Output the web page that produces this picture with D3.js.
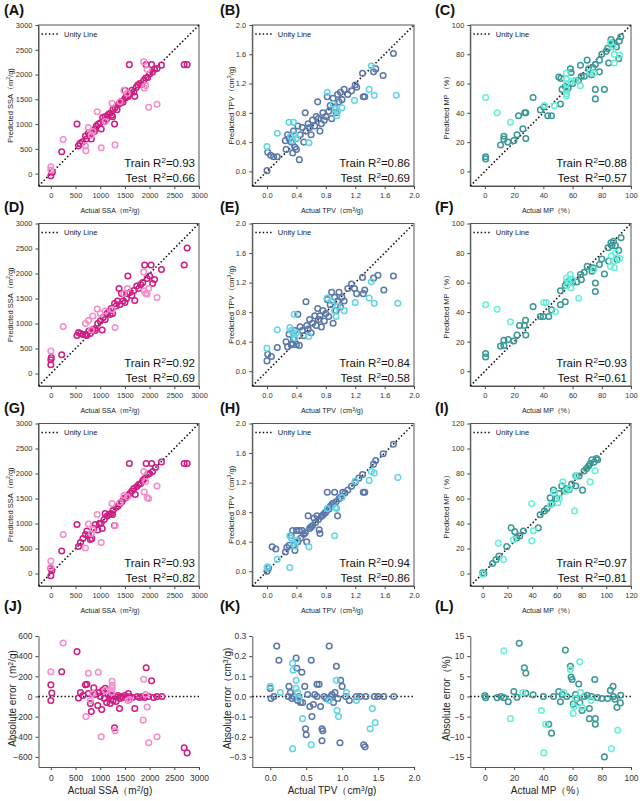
<!DOCTYPE html>
<html><head><meta charset="utf-8">
<script src="https://cdn.jsdelivr.net/npm/d3@7"></script>
<style>body{margin:0;background:#fff}svg{font-family:Arial,"Liberation Sans",sans-serif}</style>
</head><body>
<script>
// ---------- DATA ----------
const ssaTicks=[0,500,1000,1500,2000,2500,3000];
const tpvTicks=[0.0,0.4,0.8,1.2,1.6,2.0];
const mpTicks=[0,20,40,60,80,100];
const mpTicksI=[0,20,40,60,80,100,120];
const ssaErrTicks=[-600,-400,-200,0,200,400,600];
const tpvErrTicks=[-0.3,-0.2,-0.1,0.0,0.1,0.2,0.3];
const tpvErrXTicks=[0.0,0.5,1.0,1.5,2.0];
const mpErrTicks=[-15,-10,-5,0,5,10,15];
const r2Labels=[["0.93","0.66"],["0.86","0.69"],["0.88","0.57"],["0.92","0.69"],["0.84","0.58"],["0.93","0.61"],["0.93","0.82"],["0.94","0.86"],["0.97","0.81"]];

const trainA=[[0,-45],[30,30],[220,440],[530,1000],[560,560],[590,610],[640,640],[700,760],[720,700],[760,820],[790,780],[820,700],[850,870],[880,850],[920,960],[960,1000],[1000,1020],[1020,900],[1050,1130],[1080,1060],[1100,1150],[1130,1100],[1160,1190],[1200,1220],[1230,1180],[1260,1300],[1290,1000],[1300,1330],[1340,1290],[1370,1400],[1400,1420],[1430,1460],[1460,1440],[1500,1520],[1530,1560],[1560,1550],[1590,2200],[1600,1610],[1640,1680],[1680,1650],[1700,1560],[1730,1740],[1760,1790],[1800,1820],[1840,1800],[1880,1880],[1920,1930],[1960,1940],[2000,2010],[2040,2200],[2060,2050],[2100,2110],[2150,2120],[2240,2190],[1930,2200],[2700,2200],[2760,2200],[1500,1680],[1250,1150],[900,900]];
const testA=[[0,140],[0,70],[250,690],[700,560],[710,460],[760,930],[850,850],[940,1250],[1020,520],[1300,580],[1240,1420],[1400,1450],[1480,1680],[1550,1620],[1880,2260],[1950,2100],[1980,1340],[2150,1400],[1890,1730],[1920,1780],[820,780],[1100,1050]];
const trainD=[[0,175],[0,275],[10,320],[220,375],[530,760],[560,820],[600,800],[650,780],[700,780],[730,760],[770,850],[800,800],[850,880],[900,860],[950,1000],[1000,1050],[1040,870],[1060,1120],[1100,1080],[1140,1200],[1180,1250],[1220,1300],[1250,1200],[1290,1400],[1320,1350],[1350,1450],[1380,1700],[1400,1380],[1430,1600],[1460,1450],[1500,1420],[1530,1500],[1560,1950],[1600,1620],[1640,1560],[1680,1660],[1700,1460],[1740,1750],[1780,1700],[1820,1780],[1860,1820],[1900,2170],[1950,1900],[2000,1950],[2030,2170],[2060,1800],[2100,1880],[2240,2080],[2700,2170],[2760,2510],[1200,1180],[900,900],[1550,1600]];
const testD=[[0,450],[250,940],[700,1000],[760,1060],[850,1150],[940,1290],[1000,1200],[1100,1250],[1300,920],[1240,1280],[1480,1600],[1550,1700],[1880,2030],[1920,1600],[1950,1590],[2150,1520],[1890,1650],[1980,1700],[820,870]];
const trainG=[[0,-45],[0,100],[20,55],[220,450],[530,980],[560,540],[600,620],[650,700],[700,780],[730,850],[760,760],[800,680],[830,700],[870,900],[900,980],[950,870],[980,1000],[1020,1010],[1040,900],[1080,1080],[1100,1200],[1140,1150],[1180,1180],[1220,1200],[1260,1260],[1290,960],[1320,1320],[1360,1350],[1400,1400],[1440,1440],[1480,1500],[1520,1520],[1560,1560],[1590,2200],[1600,1600],[1640,1650],[1680,1700],[1710,1580],[1740,1740],[1780,1780],[1820,1800],[1860,1860],[1900,1900],[1930,2200],[1960,1980],[2000,2000],[2040,2200],[2060,2040],[2120,2120],[2240,2230],[2700,2200],[2760,2200],[1250,1180]];
const testG=[[0,250],[0,120],[250,780],[700,510],[760,990],[850,880],[940,1180],[1020,620],[1300,960],[1240,1400],[1400,1420],[1480,1560],[1550,1530],[1880,2040],[1950,1520],[1980,1500],[2150,1750],[1890,1630],[1920,1840],[820,800]];
const trainJ=[[0,115],[0,-40],[20,35],[220,245],[530,445],[560,-15],[600,40],[650,10],[700,115],[730,120],[760,30],[800,-70],[820,-150],[870,85],[900,20],[950,-90],[980,40],[1030,-130],[1050,60],[1080,-20],[1100,80],[1130,-60],[1160,20],[1200,-70],[1230,10],[1260,-40],[1290,-310],[1320,-50],[1360,10],[1390,-120],[1420,0],[1460,-10],[1500,10],[1540,-10],[1570,30],[1600,0],[1650,-10],[1700,-120],[1750,0],[1800,-10],[1850,0],[1900,-10],[1930,285],[1980,0],[2040,155],[2080,-10],[2150,0],[2250,0],[2700,-510],[2760,-560],[1000,0],[1200,0],[1300,0],[1400,-20]];
const testJ=[[0,245],[250,530],[710,-200],[760,230],[800,-40],[850,30],[960,240],[1020,-400],[1240,150],[1240,110],[1240,80],[1240,40],[1300,-340],[1560,-40],[1600,-30],[1880,170],[1870,-235],[1950,-105],[1980,-460],[2150,-400],[1920,20],[1100,60]];

const trainB=[[0.0,0.01],[0.01,0.26],[0.05,0.22],[0.09,0.2],[0.14,0.2],[0.26,0.3],[0.28,0.5],[0.3,0.45],[0.33,0.4],[0.36,0.55],[0.38,0.33],[0.4,0.3],[0.42,0.62],[0.44,0.16],[0.45,0.5],[0.48,0.6],[0.5,0.4],[0.52,0.8],[0.53,0.55],[0.56,0.65],[0.58,0.6],[0.6,0.5],[0.62,0.7],[0.65,0.62],[0.67,0.75],[0.69,0.95],[0.7,0.72],[0.72,0.55],[0.74,0.65],[0.76,0.8],[0.78,0.7],[0.8,0.75],[0.82,1.02],[0.84,0.82],[0.86,0.9],[0.88,0.72],[0.9,1.0],[0.92,0.88],[0.94,0.8],[0.96,1.05],[0.98,0.95],[1.0,1.08],[1.02,0.98],[1.05,1.12],[1.1,1.05],[1.15,1.1],[1.2,1.18],[1.22,1.15],[1.3,1.34],[1.31,1.02],[1.33,1.02],[1.45,1.36],[1.48,1.4],[1.58,1.31],[1.72,1.61],[0.35,0.25],[0.25,0.42]];
const testB=[[0.0,0.34],[0.14,0.52],[0.3,0.67],[0.36,0.67],[0.32,0.48],[0.35,0.42],[0.38,0.5],[0.4,0.45],[0.57,0.39],[0.82,1.08],[0.9,0.92],[0.93,0.85],[0.95,0.76],[1.02,0.87],[1.19,0.97],[1.39,1.12],[1.46,1.04],[1.76,1.04],[1.42,1.44],[0.96,0.82]];
const trainE=[[0.0,0.14],[0.01,0.23],[0.06,0.2],[0.14,0.32],[0.26,0.4],[0.28,0.33],[0.3,0.5],[0.33,0.36],[0.36,0.44],[0.38,0.55],[0.4,0.36],[0.42,0.77],[0.44,0.35],[0.45,0.6],[0.48,0.55],[0.5,0.48],[0.53,0.94],[0.54,0.62],[0.56,0.57],[0.58,0.7],[0.6,0.52],[0.62,0.65],[0.65,0.75],[0.67,0.62],[0.69,0.85],[0.7,0.7],[0.72,0.75],[0.74,0.6],[0.76,0.82],[0.78,0.68],[0.8,0.78],[0.82,0.97],[0.84,0.74],[0.86,0.9],[0.88,1.07],[0.9,0.65],[0.92,1.0],[0.94,0.82],[0.96,0.95],[0.98,1.07],[1.0,0.87],[1.02,1.0],[1.05,0.95],[1.1,1.12],[1.15,1.18],[1.19,1.12],[1.22,1.05],[1.3,1.27],[1.31,1.05],[1.33,1.1],[1.45,1.26],[1.51,1.3],[1.59,1.1],[1.72,1.29],[0.35,0.37]];
const testE=[[0.0,0.31],[0.14,0.56],[0.31,0.59],[0.33,0.55],[0.37,0.77],[0.36,0.5],[0.38,0.45],[0.4,0.52],[0.57,0.47],[0.82,0.99],[0.88,0.95],[0.92,0.82],[0.94,0.74],[1.05,0.82],[1.2,0.93],[1.39,0.99],[1.46,0.92],[1.78,0.92],[1.42,1.21],[0.96,0.88]];
const trainH=[[0.0,0.0],[0.02,0.04],[0.07,0.33],[0.12,0.3],[0.25,0.26],[0.27,0.32],[0.3,0.35],[0.33,0.48],[0.35,0.55],[0.38,0.28],[0.4,0.55],[0.42,0.4],[0.44,0.55],[0.46,0.45],[0.48,0.55],[0.5,0.5],[0.52,0.52],[0.54,0.4],[0.56,0.75],[0.58,0.58],[0.6,0.6],[0.62,0.62],[0.64,0.72],[0.66,0.66],[0.68,0.75],[0.7,0.7],[0.71,0.56],[0.72,0.51],[0.74,0.74],[0.76,0.76],[0.78,0.78],[0.8,0.8],[0.82,1.07],[0.84,0.84],[0.86,0.88],[0.88,0.9],[0.9,0.92],[0.92,1.07],[0.94,0.94],[0.96,0.75],[0.98,0.98],[1.0,1.0],[1.03,1.07],[1.06,1.06],[1.1,1.1],[1.15,1.15],[1.2,1.2],[1.25,1.26],[1.3,1.31],[1.31,1.07],[1.33,1.07],[1.45,1.45],[1.48,1.5],[1.58,1.59],[1.72,1.72],[0.36,0.35]];
const testH=[[0.0,0.05],[0.01,0.06],[0.14,0.16],[0.31,0.05],[0.31,0.48],[0.33,0.45],[0.36,0.38],[0.38,0.34],[0.4,0.42],[0.57,0.33],[0.82,0.85],[0.92,0.48],[0.93,0.86],[0.95,0.85],[1.02,1.0],[1.2,1.22],[1.39,1.23],[1.46,1.33],[1.78,1.27],[1.42,1.35]];
const trainK=[[0.0,0.04],[0.01,-0.01],[0.05,0.0],[0.09,0.25],[0.12,0.18],[0.26,0.05],[0.28,0.02],[0.3,-0.01],[0.33,0.0],[0.36,0.19],[0.37,0.14],[0.38,-0.02],[0.4,0.0],[0.42,-0.03],[0.44,0.12],[0.45,-0.03],[0.48,0.05],[0.49,-0.16],[0.5,-0.19],[0.52,0.01],[0.55,-0.05],[0.57,0.18],[0.58,-0.1],[0.6,-0.04],[0.62,0.01],[0.65,0.06],[0.68,0.06],[0.7,-0.05],[0.72,-0.16],[0.72,-0.22],[0.73,-0.17],[0.75,0.0],[0.78,-0.01],[0.82,0.25],[0.84,0.0],[0.86,0.01],[0.88,-0.03],[0.9,0.02],[0.92,0.15],[0.94,-0.01],[0.97,-0.23],[0.98,0.08],[1.0,0.05],[1.05,0.0],[1.1,-0.02],[1.2,0.0],[1.25,0.0],[1.3,-0.24],[1.32,-0.25],[1.33,0.0],[1.45,0.0],[1.5,0.0],[1.58,0.0],[1.72,0.0],[0.25,0.0],[0.65,0.0]];
const testK=[[0.0,0.05],[0.14,0.02],[0.31,0.165],[0.32,0.13],[0.36,0.08],[0.36,0.04],[0.38,0.02],[0.4,-0.01],[0.45,-0.11],[0.31,-0.26],[0.57,-0.24],[0.82,-0.02],[0.92,0.08],[0.93,-0.07],[0.95,-0.1],[1.06,0.02],[1.2,-0.02],[1.39,-0.16],[1.42,-0.06],[1.46,-0.13]];

const trainC=[[0.5,10],[0.5,8.5],[10.7,18],[13,24],[13,22],[15.7,20],[19.8,21],[22,25],[23,38],[26,29],[27.3,40],[28,40],[28,22.5],[33,50.5],[38,42],[40.3,44],[43,38],[45.6,38],[51.7,46],[50.6,64.5],[52,63.5],[52.8,56],[55,58],[56,55],[57,57],[58.5,70],[59,67.5],[60,60],[62,62],[64,62],[65.4,72.5],[66,65],[68,65],[70,76],[71,70],[73,66],[74,71],[75.6,73],[75.6,56],[75.6,49.5],[78.4,76],[78.4,68],[80,80],[81.8,56],[83,82],[84.7,74],[84,84],[86.3,90],[87,87],[88,88],[90,85],[91.6,77],[93,92],[92,89]];
const testC=[[0.5,50.5],[8.4,40],[17.5,33.5],[40.8,45],[47.6,45],[55.8,67],[55.8,63],[55.8,60],[55.8,55.7],[55.8,53],[55.8,51.5],[59,61.5],[62,62],[65.4,58.5],[72,68],[74.5,67],[86,88],[87.7,85],[88.6,80],[88.6,74],[92.3,79.5]];
const trainF=[[0.5,9.6],[0.5,12],[10.7,17],[13,21],[13,17.5],[16,21.5],[19.8,20.5],[22,24.5],[23.7,31],[27,31],[27.8,34.5],[28,24.5],[33,43.7],[38,37],[40,37],[43.7,37],[45.6,41.5],[51.7,54.4],[51.7,45],[55,47],[55,58],[56,60],[58.5,62],[60,60],[63,60.4],[65.4,65.4],[66,62],[68,67],[70,71],[73.3,67.7],[74,70],[75.6,59.7],[75.6,54],[78.4,72.2],[80,76],[81.8,65.8],[84.7,74.5],[84.3,83.6],[86.3,87],[87,85],[89.3,85],[90.4,75.6],[91.6,81.8],[93.2,90.4],[88,88]];
const testF=[[0.5,45],[8.4,42],[17.5,33.5],[40.3,46.5],[42,46.5],[48.3,40.3],[55.8,63],[56.3,58],[57,61],[58.5,65.4],[58.9,56.3],[64.2,49.4],[60,62],[74.5,68.8],[85.9,71],[86.5,78],[88.6,74.5],[88.6,70],[89.3,80.2],[92.3,76.3]];
const trainI=[[0,0.5],[1,0],[8,8],[10.8,11],[13.2,14],[19.5,21.5],[23,36.5],[26,33.5],[27.6,28.5],[30,30],[33,34],[45,36.5],[46.5,47],[50,50],[52,52],[54.6,60.5],[56,56],[57.3,66.7],[60,60],[62,64],[64,70],[66,66],[68,68],[70,67],[72,71.5],[75.4,70],[75.7,78],[78,78],[80.8,66.7],[82,82],[84,84],[85.7,86],[87,88],[88.4,91],[90,89],[93,91],[92,92]];
const testI=[[0,-0.5],[12.7,24.3],[16.8,11.3],[24.9,27],[39.7,55.8],[39.7,26.1],[41,34.2],[55,55],[57.8,64.7],[60.8,56.6],[62,60],[64.9,73.3],[67.6,66],[70,68],[74.3,50.1],[74.9,78.2],[87,73.3],[91,82.2]];
const trainL=[[0,0.2],[0.5,-0.3],[8.4,-0.3],[11,0],[13,-0.3],[16,-1.3],[19.8,1.2],[22,-0.2],[23.5,13.2],[27,7.1],[28,5.8],[28,0.8],[33,0.4],[40,0],[43.7,-6.9],[45.6,-9.1],[47,0],[50.6,1.2],[51.7,-1.3],[53,0.5],[55.1,11.5],[56,0],[58.5,7.5],[59,4.8],[59.7,4.2],[60.4,-1.9],[62,0.5],[63,-0.5],[64.2,3.1],[65,-1.5],[66.5,-3.5],[68,0],[70,0.3],[71.5,-3],[71.5,-5.5],[73,0],[75.2,4.2],[75.6,-5.5],[75.6,-6.9],[77,-0.3],[80,-0.5],[81.8,-15],[84,-0.5],[85.9,1.5],[87.7,2.5],[88,0],[89,-0.7],[90.4,-2.7],[92.7,-1.6],[93,0.3]];
const testL=[[13,11.3],[17.5,-5.5],[26,1.0],[38.7,-3.5],[41.5,-6.9],[40.3,-14],[54,1.0],[58.5,6.7],[60.4,-4.2],[61,-2.5],[62,-0.5],[64.9,8.6],[65.4,1.0],[66.5,-2.7],[72.7,-1.0],[86.6,-13],[90.9,-8.4]];

// ---------- LAYOUT / STYLE ----------
const colX=[[38.5,199],[252.3,414],[470.3,631]];
const rowY=[[25,186],[223.5,386],[423.5,586],[636,767]];
const letterX=[4,220,435];
const letterY=[15,212,413,611];
const xLabelCx=[110,332,548];
const yLabelX=[10,231,446];
const yLabelX4=[12,227,446];
const colors={ssa:["#cf1d83","#f58ccb"],tpv:["#5a77a9","#62d4e6"],mp:["#3a9896","#64f0d8"]};
const props={
  ssa:{x:"Actual SSA（m^2/g)",y:"Predicted SSA（m^2/g)",e:"Absolute error（m^2/g)",dom:[-250,3000],ticks:ssaTicks,fmt:d3.format("d")},
  tpv:{x:"Actual TPV（cm^3/g)",y:"Predicted TPV（cm^3/g)",e:"Absolute error（cm^3/g)",dom:[-0.2,2.0],ticks:tpvTicks,fmt:d3.format(".1f")},
  mp:{x:"Actual MP（%）",y:"Predicted MP（%）",e:"Absolute error（%)",dom:[-10,100],ticks:mpTicks,fmt:d3.format("d")}
};
const panels=[
 {L:"(A)",r:0,c:0,p:"ssa",tr:trainA,te:testA},{L:"(B)",r:0,c:1,p:"tpv",tr:trainB,te:testB},{L:"(C)",r:0,c:2,p:"mp",tr:trainC,te:testC},
 {L:"(D)",r:1,c:0,p:"ssa",tr:trainD,te:testD},{L:"(E)",r:1,c:1,p:"tpv",tr:trainE,te:testE},{L:"(F)",r:1,c:2,p:"mp",tr:trainF,te:testF},
 {L:"(G)",r:2,c:0,p:"ssa",tr:trainG,te:testG},{L:"(H)",r:2,c:1,p:"tpv",tr:trainH,te:testH},{L:"(I)",r:2,c:2,p:"mp",tr:trainI,te:testI,dom:[-10,120],ticks:mpTicksI},
 {L:"(J)",r:3,c:0,p:"ssa",tr:trainJ,te:testJ,err:true,ydom:[-700,600],yticks:ssaErrTicks,yfmt:d3.format("d")},
 {L:"(K)",r:3,c:1,p:"tpv",tr:trainK,te:testK,err:true,xdom:[-0.25,2.0],xticks:tpvErrXTicks,ydom:[-0.35,0.3],yticks:tpvErrTicks,yfmt:d3.format(".1f")},
 {L:"(L)",r:3,c:2,p:"mp",tr:trainL,te:testL,err:true,ydom:[-17.5,15],yticks:mpErrTicks,yfmt:d3.format("d")}
];

const svg=d3.select("body").append("svg").attr("width",643).attr("height",801);

function rich(t,str){
  const parts=str.split(/\^(\d)/);
  parts.forEach((s,i)=>{
    if(!s) return;
    const ts=t.append("tspan").text(s);
    if(i%2===1) ts.attr("baseline-shift","super").attr("font-size","70%");
  });
}

panels.forEach((P,idx)=>{
  const pr=props[P.p];
  const [x0,x1]=colX[P.c],[y0,y1]=rowY[P.r];
  const xd=P.xdom||P.dom||pr.dom;
  const yd=P.ydom||P.dom||pr.dom;
  const xt=P.xticks||P.ticks||pr.ticks;
  const yt=P.yticks||P.ticks||pr.ticks;
  const x=d3.scaleLinear().domain(xd).range([x0,x1]);
  const y=d3.scaleLinear().domain(yd).range([y1,y0]);
  const g=svg.append("g");
  const big=P.err;
  const tfs=big?"8.5px":"7.5px";
  const gx=g.append("g").attr("transform",`translate(0,${y1})`)
    .call(d3.axisBottom(x).tickValues(xt).tickFormat(P.p==="tpv"?d3.format(".1f"):d3.format("d")).tickSize(3).tickSizeOuter(0));
  const gy=g.append("g").attr("transform",`translate(${x0},0)`)
    .call(d3.axisLeft(y).tickValues(yt).tickFormat(P.yfmt||pr.fmt).tickSize(3).tickSizeOuter(0));
  [gx,gy].forEach(a=>{a.attr("color","#444");a.selectAll("text").attr("fill","#333").style("font-size",tfs);a.select(".domain").attr("stroke","#555");});
  gx.selectAll("text").attr("dy",big?"0.9em":"0.85em");
  if(!P.err){
    g.append("rect").attr("x",x0).attr("y",y0).attr("width",x1-x0).attr("height",y1-y0)
      .attr("fill","none").attr("stroke","#555").attr("stroke-width",1);
    g.append("line").attr("x1",x(xd[0])).attr("y1",y(yd[0])).attr("x2",x(xd[1])).attr("y2",y(yd[1]))
      .attr("stroke","#111").attr("stroke-width",1.6).attr("stroke-dasharray","1.5,2.2");
    g.append("line").attr("x1",x0+3).attr("x2",x0+21).attr("y1",y0+9).attr("y2",y0+9)
      .attr("stroke","#111").attr("stroke-width",1.6).attr("stroke-dasharray","1.5,2.2");
    g.append("text").attr("x",x0+25.5).attr("y",y0+11.5).attr("font-size","7.5px").attr("fill","#222").text("Unity Line");
  } else {
    g.append("line").attr("x1",x(xd[0])).attr("x2",x(xd[1])).attr("y1",y(0)).attr("y2",y(0))
      .attr("stroke","#111").attr("stroke-width",1.6).attr("stroke-dasharray","1.5,2.2");
  }
  const [cTr,cTe]=colors[P.p];
  g.append("g").selectAll("circle").data(P.tr).join("circle")
    .attr("cx",d=>x(d[0])).attr("cy",d=>y(d[1])).attr("r",2.8)
    .attr("fill","none").attr("stroke",cTr).attr("stroke-width",1.5);
  g.append("g").selectAll("circle").data(P.te).join("circle")
    .attr("cx",d=>x(d[0])).attr("cy",d=>y(d[1])).attr("r",2.8)
    .attr("fill","none").attr("stroke",cTe).attr("stroke-width",1.5);
  if(!P.err){
    const [a,b]=r2Labels[idx];
    const t1=g.append("text").attr("x",x1-4).attr("y",y1-19).attr("text-anchor","end").attr("font-size","11.5px").attr("fill","#111");
    rich(t1,"Train R^2=\u200b"+a);
    const t2=g.append("text").attr("x",x1-4).attr("y",y1-4).attr("text-anchor","end").attr("font-size","11.5px").attr("fill","#111").style("white-space","pre");
    rich(t2,"Test  R^2=\u200b"+b);
  }
  svg.append("text").attr("x",letterX[P.c]).attr("y",letterY[P.r]).attr("font-size","14.5px").attr("font-weight","bold").attr("fill","#111").text(P.L);
  const xl=svg.append("text").attr("x",xLabelCx[P.c]).attr("y",big?794:y1+27).attr("text-anchor","middle")
    .attr("font-size",big?"10px":"7px").attr("fill","#222");
  rich(xl,pr.x);
  const yx=big?yLabelX4[P.c]:yLabelX[P.c];
  const yc=(y0+y1)/2;
  const yl=svg.append("text").attr("transform",`translate(${yx},${big?yc-3:yc}) rotate(-90)`).attr("text-anchor","middle")
    .attr("dy","0.35em").attr("font-size",big?"10px":"7.5px").attr("fill","#222");
  rich(yl,big?pr.e:pr.y);
});
</script>
</body></html>
